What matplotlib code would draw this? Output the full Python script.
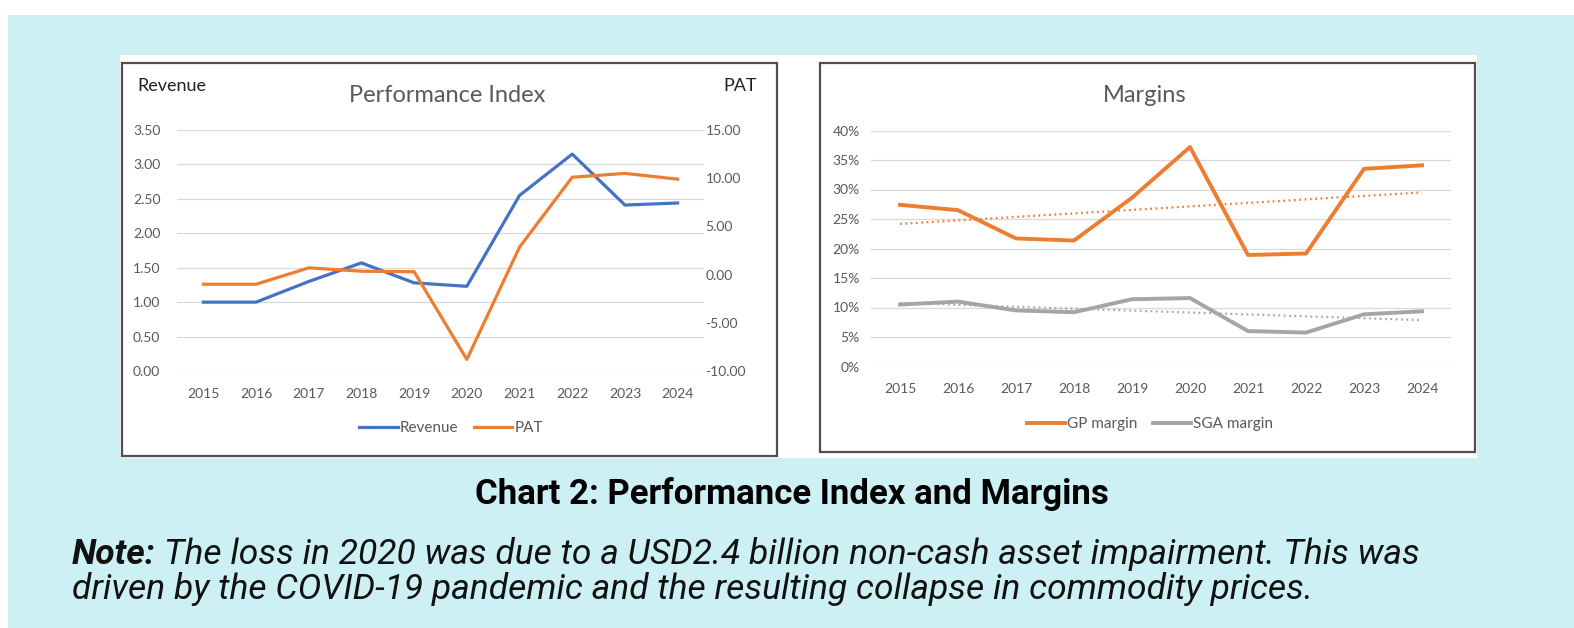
import numpy as np
import matplotlib
matplotlib.use("Agg")
import matplotlib.pyplot as plt
from matplotlib.patches import Rectangle
from matplotlib.lines import Line2D

years = ["2015", "2016", "2017", "2018", "2019", "2020", "2021", "2022", "2023", "2024"]
revenue = [1.00, 1.00, 1.30, 1.57, 1.28, 1.23, 2.55, 3.15, 2.41, 2.44]
pat = [-1.0, -1.0, 0.7, 0.35, 0.3, -8.8, 2.85, 10.1, 10.5, 9.9]
gp_margin = [27.4, 26.5, 21.7, 21.35, 28.6, 37.2, 18.9, 19.15, 33.5, 34.1]
sga_margin = [10.5, 11.0, 9.5, 9.2, 11.4, 11.6, 6.0, 5.75, 8.85, 9.35]

W, H = 1574, 628
BLUE = "#4472C4"
ORANGE = "#ED7D31"
GREY = "#A5A5A5"
TXT = "#595959"
GRID = "#D9D9D9"
CHART_FONT = ["Lato", "DejaVu Sans"]
TICK_SIZE = 10

fig = plt.figure(figsize=(W / 100, H / 100), dpi=100)
fig.patch.set_facecolor("white")


def px_rect(x0, y0, x1, y1, **kw):
    # rectangle given in pixel coords (top-left origin)
    r = Rectangle((x0 / W, 1 - y1 / H), (x1 - x0) / W, (y1 - y0) / H,
                  transform=fig.transFigure, **kw)
    fig.patches.append(r)
    return r


def px_axes(x0, y0, x1, y1):
    return fig.add_axes([x0 / W, 1 - y1 / H, (x1 - x0) / W, (y1 - y0) / H])


def px_text(x, y, s, **kw):
    return fig.text(x / W, 1 - y / H, s, **kw)


# page background and chart frames
px_rect(8, 15, W, H, facecolor="#CCF0F4", edgecolor="none", zorder=0)
px_rect(120, 55, 1477, 458, facecolor="white", edgecolor="none", zorder=1)
px_rect(122, 63, 777, 456, facecolor="white", edgecolor="#505050", lw=1.6, zorder=2)
px_rect(820, 63, 1475, 452, facecolor="white", edgecolor="#505050", lw=1.6, zorder=2)

x = np.arange(len(years))


def style_axes(ax):
    ax.set_facecolor("none")
    for s in ax.spines.values():
        s.set_visible(False)
    ax.tick_params(length=0, labelsize=TICK_SIZE, labelcolor=TXT)
    ax.grid(axis="y", color=GRID, lw=0.9)
    ax.set_axisbelow(True)
    ax.set_xlim(-0.5, len(years) - 0.5)
    ax.set_xticks(x)
    ax.set_xticklabels(years, family=CHART_FONT)


def make_legend(handles, labels, cx, cy):
    leg = fig.legend(handles=handles, labels=labels, loc="center",
                     bbox_to_anchor=(cx / W, 1 - cy / H), ncol=2, frameon=False,
                     handlelength=2.5, handletextpad=0.15, columnspacing=1.0,
                     prop={"family": CHART_FONT, "size": 11})
    for t in leg.get_texts():
        t.set_color(TXT)
    return leg


# ---- Performance Index ----
ax1 = px_axes(177, 130, 704, 371)
ax1.set_zorder(3)
style_axes(ax1)
ax1.set_ylim(0, 3.5)
ticks1 = np.arange(0, 3.51, 0.5)
ax1.set_yticks(ticks1)
ax1.set_yticklabels([f"{v:.2f}" for v in ticks1], family=CHART_FONT)
ax1.tick_params(axis="x", pad=12)
ax1.tick_params(axis="y", pad=12)
ax1.plot(x, revenue, color=BLUE, lw=2.3, solid_joinstyle="round")

ax2 = ax1.twinx()
for s in ax2.spines.values():
    s.set_visible(False)
ax2.set_ylim(-10, 15)
ticks2 = np.arange(-10, 15.1, 5)
ax2.set_yticks(ticks2)
ax2.set_yticklabels([f"{v:.2f}" for v in ticks2], family=CHART_FONT)
ax2.tick_params(length=0, labelsize=TICK_SIZE, labelcolor=TXT, pad=1)
ax2.plot(x, pat, color=ORANGE, lw=2.3, solid_joinstyle="round")

px_text(137, 86, "Revenue", fontsize=13, color="#222222", family=CHART_FONT,
        va="center", ha="left")
px_text(757, 86, "PAT", fontsize=13, color="#222222", family=CHART_FONT,
        va="center", ha="right")
px_text(447, 95, "Performance Index", fontsize=17, color=TXT, family=CHART_FONT,
        va="center", ha="center")

make_legend([Line2D([], [], color=BLUE, lw=2.3), Line2D([], [], color=ORANGE, lw=2.3)],
            ["Revenue", "PAT"], 451, 428)

# ---- Margins ----
ax3 = px_axes(871, 130.5, 1451, 366.5)
ax3.set_zorder(3)
style_axes(ax3)
ax3.set_ylim(0, 40)
ax3.set_yticks(np.arange(0, 41, 5))
ax3.set_yticklabels([f"{v}%" for v in range(0, 41, 5)], family=CHART_FONT)
ax3.tick_params(axis="x", pad=12)
ax3.tick_params(axis="y", pad=8)

# linear trendlines
for vals, col in [(gp_margin, ORANGE), (sga_margin, GREY)]:
    k, b = np.polyfit(x, vals, 1)
    ax3.plot(x, k * x + b, color=col, lw=1.6, ls=(0, (0.8, 1.6)))
ax3.plot(x, gp_margin, color=ORANGE, lw=2.8, solid_joinstyle="round")
ax3.plot(x, sga_margin, color=GREY, lw=2.8, solid_joinstyle="round")

px_text(1145, 96, "Margins", fontsize=17, color=TXT, family=CHART_FONT,
        va="center", ha="center")

make_legend([Line2D([], [], color=ORANGE, lw=2.8), Line2D([], [], color=GREY, lw=2.8)],
            ["GP margin", "SGA margin"], 1150, 424)

# ---- caption and note ----
px_text(792, 494, "Chart 2: Performance Index and Margins", fontsize=25, fontweight="bold",
        family=["Roboto", "DejaVu Sans"], color="black", ha="center", va="center")

note_kw = dict(fontsize=25.5, family=["Roboto", "DejaVu Sans"], color="#111111",
               va="baseline", style="italic")
note = px_text(72, 564, "Note:", fontweight="bold", **note_kw)
renderer = fig.canvas.get_renderer()
bb = note.get_window_extent(renderer=renderer)
px_text(bb.x1 + 8, 564, "The loss in 2020 was due to a USD2.4 billion non-cash asset impairment. This was",
        **note_kw)
px_text(72, 599, "driven by the COVID-19 pandemic and the resulting collapse in commodity prices.",
        **note_kw)

fig.savefig("out.png", dpi=100)
